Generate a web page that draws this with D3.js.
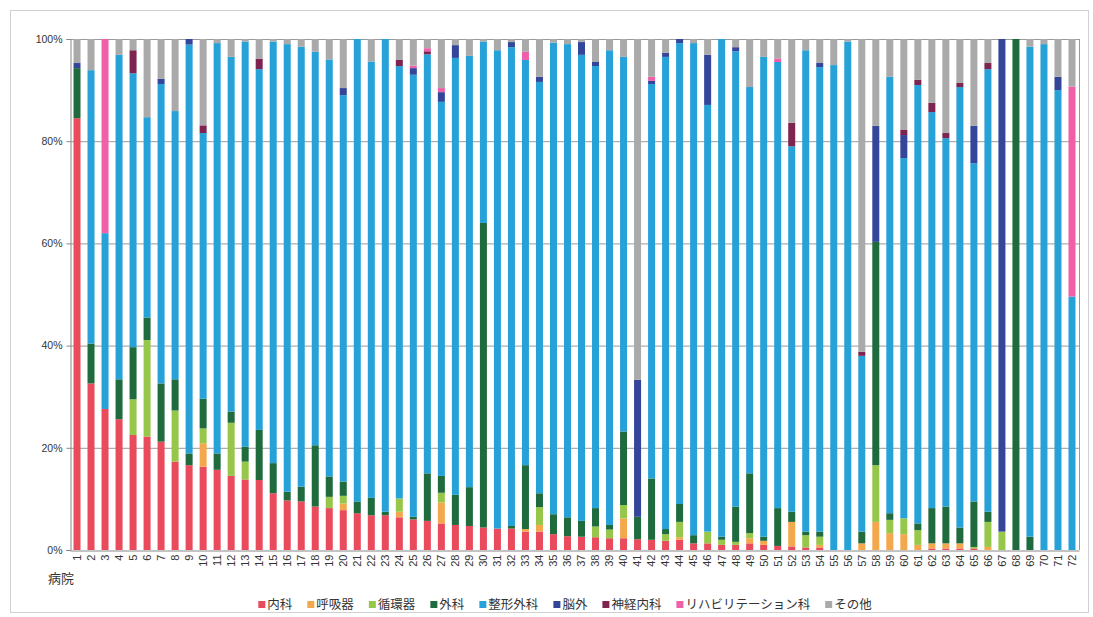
<!DOCTYPE html>
<html><head><meta charset="utf-8">
<script src="https://cdn.jsdelivr.net/npm/d3@7"></script>
<style>
body{margin:0;background:#fff;}
text{font-family:"Liberation Sans",Arial,"Noto Sans CJK JP",sans-serif;fill:#333;}
.cjk{font-family:"Noto Sans CJK JP","Liberation Sans",sans-serif;}
</style>
</head><body>
<svg id="c" width="1093" height="617"></svg>
<script>
const hospitals = ["1","2","3","4","5","6","7","8","9","10","11","12","13","14","15","16","17","18","19","20","21","22","23","24","25","26","27","28","29","30","31","32","33","34","35","36","37","38","39","40","41","42","43","44","45","46","47","48","49","50","51","52","53","54","55","56","57","58","59","60","61","62","63","64","65","66","67","68","69","70","71","72"];
const yTicks = [0, 20, 40, 60, 80, 100];
const seriesNames = ["内科","呼吸器","循環器","外科","整形外科","脳外","神経内科","リハビリテーション科","その他"];
const seriesColors = ["#e94a5c","#f4a84e","#96c74b","#1f6b3e","#27a2d8","#34469a","#7d2450","#ef60a8","#aaaaaa"];

const naika   = [84.5,32.6,27.6,25.6,22.5,22.2,21.2,17.3,16.6,16.3,15.7,14.5,13.8,13.7,11.1,9.7,9.5,8.5,8.2,7.8,7.2,6.8,6.8,6.4,6.0,5.7,5.2,4.9,4.7,4.4,4.2,4.2,3.6,3.6,3.1,2.7,2.6,2.5,2.3,2.3,2.1,2.0,1.8,2.0,1.3,1.3,1.0,1.0,1.3,1.0,0.8,0.7,0.5,0.5,0,0,0,0,0,0,0,0.3,0.3,0.3,0.3,0,0,0,0,0,0,0];
const kokyuki = [0,0,0,0,0,0,0,0,0,4.6,0,0,0,0,0,0,0,0,0,1.3,0,0,0,1.1,0,0,4.1,0,0,0,0,0,0.5,1.3,0,0,0,0,0,3.9,0,0,0,0.5,0,0,0,0,1.0,0.8,0,4.8,0,0.5,0,0,1.3,5.5,3.3,3.1,1.0,1.0,1.0,1.0,0,0.6,0,0,0,0,0,0];
const junkanki= [0,0,0,0,7.0,18.9,0,10.0,0,2.9,0,10.4,3.5,0,0,0,0,0,2.2,1.5,0,0,0,2.6,0,0,1.9,0,0,0,0,0,0,3.5,0,0,0,2.1,1.7,2.6,0,0,1.3,3.0,0,2.3,1.0,0.6,1.0,0,0,0,2.4,1.6,0,0,0,11.1,2.6,3.1,2.9,0,0,0,0.3,4.9,3.6,0,0,0,0,0];
const geka    = [9.8,7.8,0,7.8,10.2,4.4,11.4,6.1,2.3,5.8,3.2,2.2,2.9,9.8,5.9,1.7,2.9,12.0,4.0,2.8,2.3,3.4,0.7,0,0.5,9.3,3.3,5.9,7.6,59.6,0,0.5,12.5,2.7,3.9,3.7,3.1,3.6,0.9,14.4,4.4,12.0,1.0,3.5,1.6,0,0.6,6.9,11.7,0.8,7.4,2.0,0.7,1.0,0,0,2.3,43.7,1.3,0,1.3,6.9,7.2,3.1,8.9,2.0,0,100,2.6,0,0,0];
const seikei  = [0,53.5,34.4,63.5,53.6,39.2,58.6,52.5,80.0,52.0,80.3,69.4,79.3,70.6,82.5,87.6,86.1,77.0,81.6,75.6,90.5,85.4,92.5,84.6,86.5,82.0,73.2,85.5,84.4,35.5,93.6,93.7,79.3,80.5,92.3,92.6,91.2,86.5,92.9,73.3,0,77.2,92.4,90.2,96.3,83.5,97.4,89.1,75.6,93.9,87.3,71.5,94.2,90.9,94.9,99.5,34.4,0,85.4,70.5,85.8,77.5,72.1,86.2,66.2,86.6,0,0,95.9,99.0,90.0,49.6];
const nouge   = [1.0,0,0,0,0,0,1.0,0,1.1,0,0,0,0,0,0,0,0,0,0,1.4,0,0,0,0,1.3,0,1.9,2.5,0,0,0,1.0,0,1.0,0,0,2.5,0.8,0,0,26.8,0.6,0.8,0.8,0,9.8,0,0.8,0,0,0,0,0,0.8,0,0,0,22.7,0,4.5,0,0,0,0,7.3,0,96.4,0,0,0,2.6,0];
const shinkei = [0,0,0,0,4.5,0,0,0,0,1.5,0,0,0,2.0,0,0,0,0,0,0,0,0,0,1.2,0,0.6,0,0,0,0,0,0,0,0,0,0,0,0,0,0,0,0,0,0,0,0,0,0,0,0,0,4.6,0,0,0,0,0.8,0,0,1.0,1.0,1.8,1.0,0.8,0,1.2,0,0,0,0,0,0];
const riha    = [0,0,38.0,0,0,0,0,0,0,0,0,0,0,0,0,0,0,0,0,0,0,0,0,0,0.5,0.6,0.8,0,0,0,0,0,1.6,0,0,0,0,0,0,0,0,0.8,0,0,0,0,0,0,0,0,0.7,0,0,0,0,0,0,0,0,0,0,0,0,0,0,0,0,0,0,0,0,41.1];
const sonota  = [4.7,6.1,0,3.1,2.2,15.3,7.8,14.1,0,16.9,0.8,3.5,0.5,3.9,0.5,1.0,1.5,2.5,4.0,9.6,0,4.4,0,4.1,5.2,1.8,9.6,1.2,3.3,0.5,2.2,0.6,2.5,7.4,0.7,1.0,0.6,4.5,2.2,3.5,66.7,7.4,2.7,0,0.8,3.1,0,1.6,9.4,3.5,3.8,16.4,2.2,4.7,5.1,0.5,61.2,17.0,7.4,17.8,8.0,12.5,18.4,8.6,17.0,4.7,0,0,1.5,1.0,7.4,9.3];

const seriesValues = [naika,kokyuki,junkanki,geka,seikei,nouge,shinkei,riha,sonota];
const rows = hospitals.map((h,i) => {
  const r = {hospital: h};
  seriesNames.forEach((s,k) => r[s] = seriesValues[k][i]);
  return r;
});

const svg = d3.select("#c");
const L = 70, R = 1079, T = 39, B = 550;

// outer frame
svg.append("rect").attr("x",10.5).attr("y",10.5).attr("width",1078).attr("height",602)
  .attr("fill","none").attr("stroke","#d0d0d0");

const x = d3.scaleBand().domain(hospitals).range([L,R]).paddingInner(0.5).paddingOuter(0.25);
const y = d3.scaleLinear().domain([0,1]).range([B,T]);

// gridlines
svg.append("g").selectAll("line").data(yTicks.filter(d=>d>0)).join("line")
  .attr("x1",L).attr("x2",R).attr("y1",d=>y(d/100)+0.5).attr("y2",d=>y(d/100)+0.5)
  .attr("stroke","#9a9a9a").attr("stroke-width",1);
svg.append("line").attr("x1",R+0.5).attr("x2",R+0.5).attr("y1",T).attr("y2",B)
  .attr("stroke","#9a9a9a");

const stack = d3.stack().keys(seriesNames).offset(d3.stackOffsetExpand);
const series = stack(rows);

svg.append("g").selectAll("g").data(series).join("g")
  .attr("fill",(d,i)=>seriesColors[i])
  .selectAll("rect").data(d=>d).join("rect")
  .attr("x",d=>x(d.data.hospital))
  .attr("width",x.bandwidth())
  .attr("y",d=>y(d[1]))
  .attr("height",d=>Math.max(0,y(d[0])-y(d[1])));

// y axis
const yAxis = d3.axisLeft(y).tickValues(yTicks.map(d=>d/100)).tickFormat(d=>Math.round(d*100)+"%").tickSize(4).tickPadding(4);
const gy = svg.append("g").attr("transform",`translate(${L+0.5},0)`).call(yAxis);
gy.select(".domain").attr("stroke","#888");
gy.selectAll(".tick line").attr("stroke","#888");
gy.selectAll(".tick text").attr("font-size",10.5).attr("fill","#444").style("font-family","'Liberation Sans',Arial,sans-serif");

// x axis
const xAxis = d3.axisBottom(x).tickSize(0).tickPadding(0);
const gx = svg.append("g").attr("transform",`translate(0,${B+0.5})`).call(xAxis);
gx.select(".domain").attr("stroke","#888");
gx.selectAll(".tick text")
  .attr("font-size",11).attr("fill","#444")
  .attr("text-anchor","end")
  .attr("transform","translate(0,4) rotate(-90)")
  .attr("x",0).attr("y",0).attr("dy","0.35em");

// axis title
svg.append("text").attr("class","cjk").attr("x",48).attr("y",583).attr("font-size",13).attr("fill","#333").text("病院");

// legend
const lg = svg.append("g");
let cx = 0;
const gap = 15;
seriesNames.forEach((s,i)=>{
  const g = lg.append("g");
  g.append("rect").attr("x",cx).attr("y",-4).attr("width",7).attr("height",7).attr("fill",seriesColors[i]);
  const t = g.append("text").attr("class","cjk").attr("x",cx+9).attr("y",0).attr("dy","0.35em")
    .attr("font-size",12.5).attr("fill","#333").text(s);
  const w = t.node().getComputedTextLength();
  cx += 9 + w + gap;
});
const total = cx - gap;
lg.attr("transform",`translate(${565 - total/2},605)`);
</script>
</body></html>
